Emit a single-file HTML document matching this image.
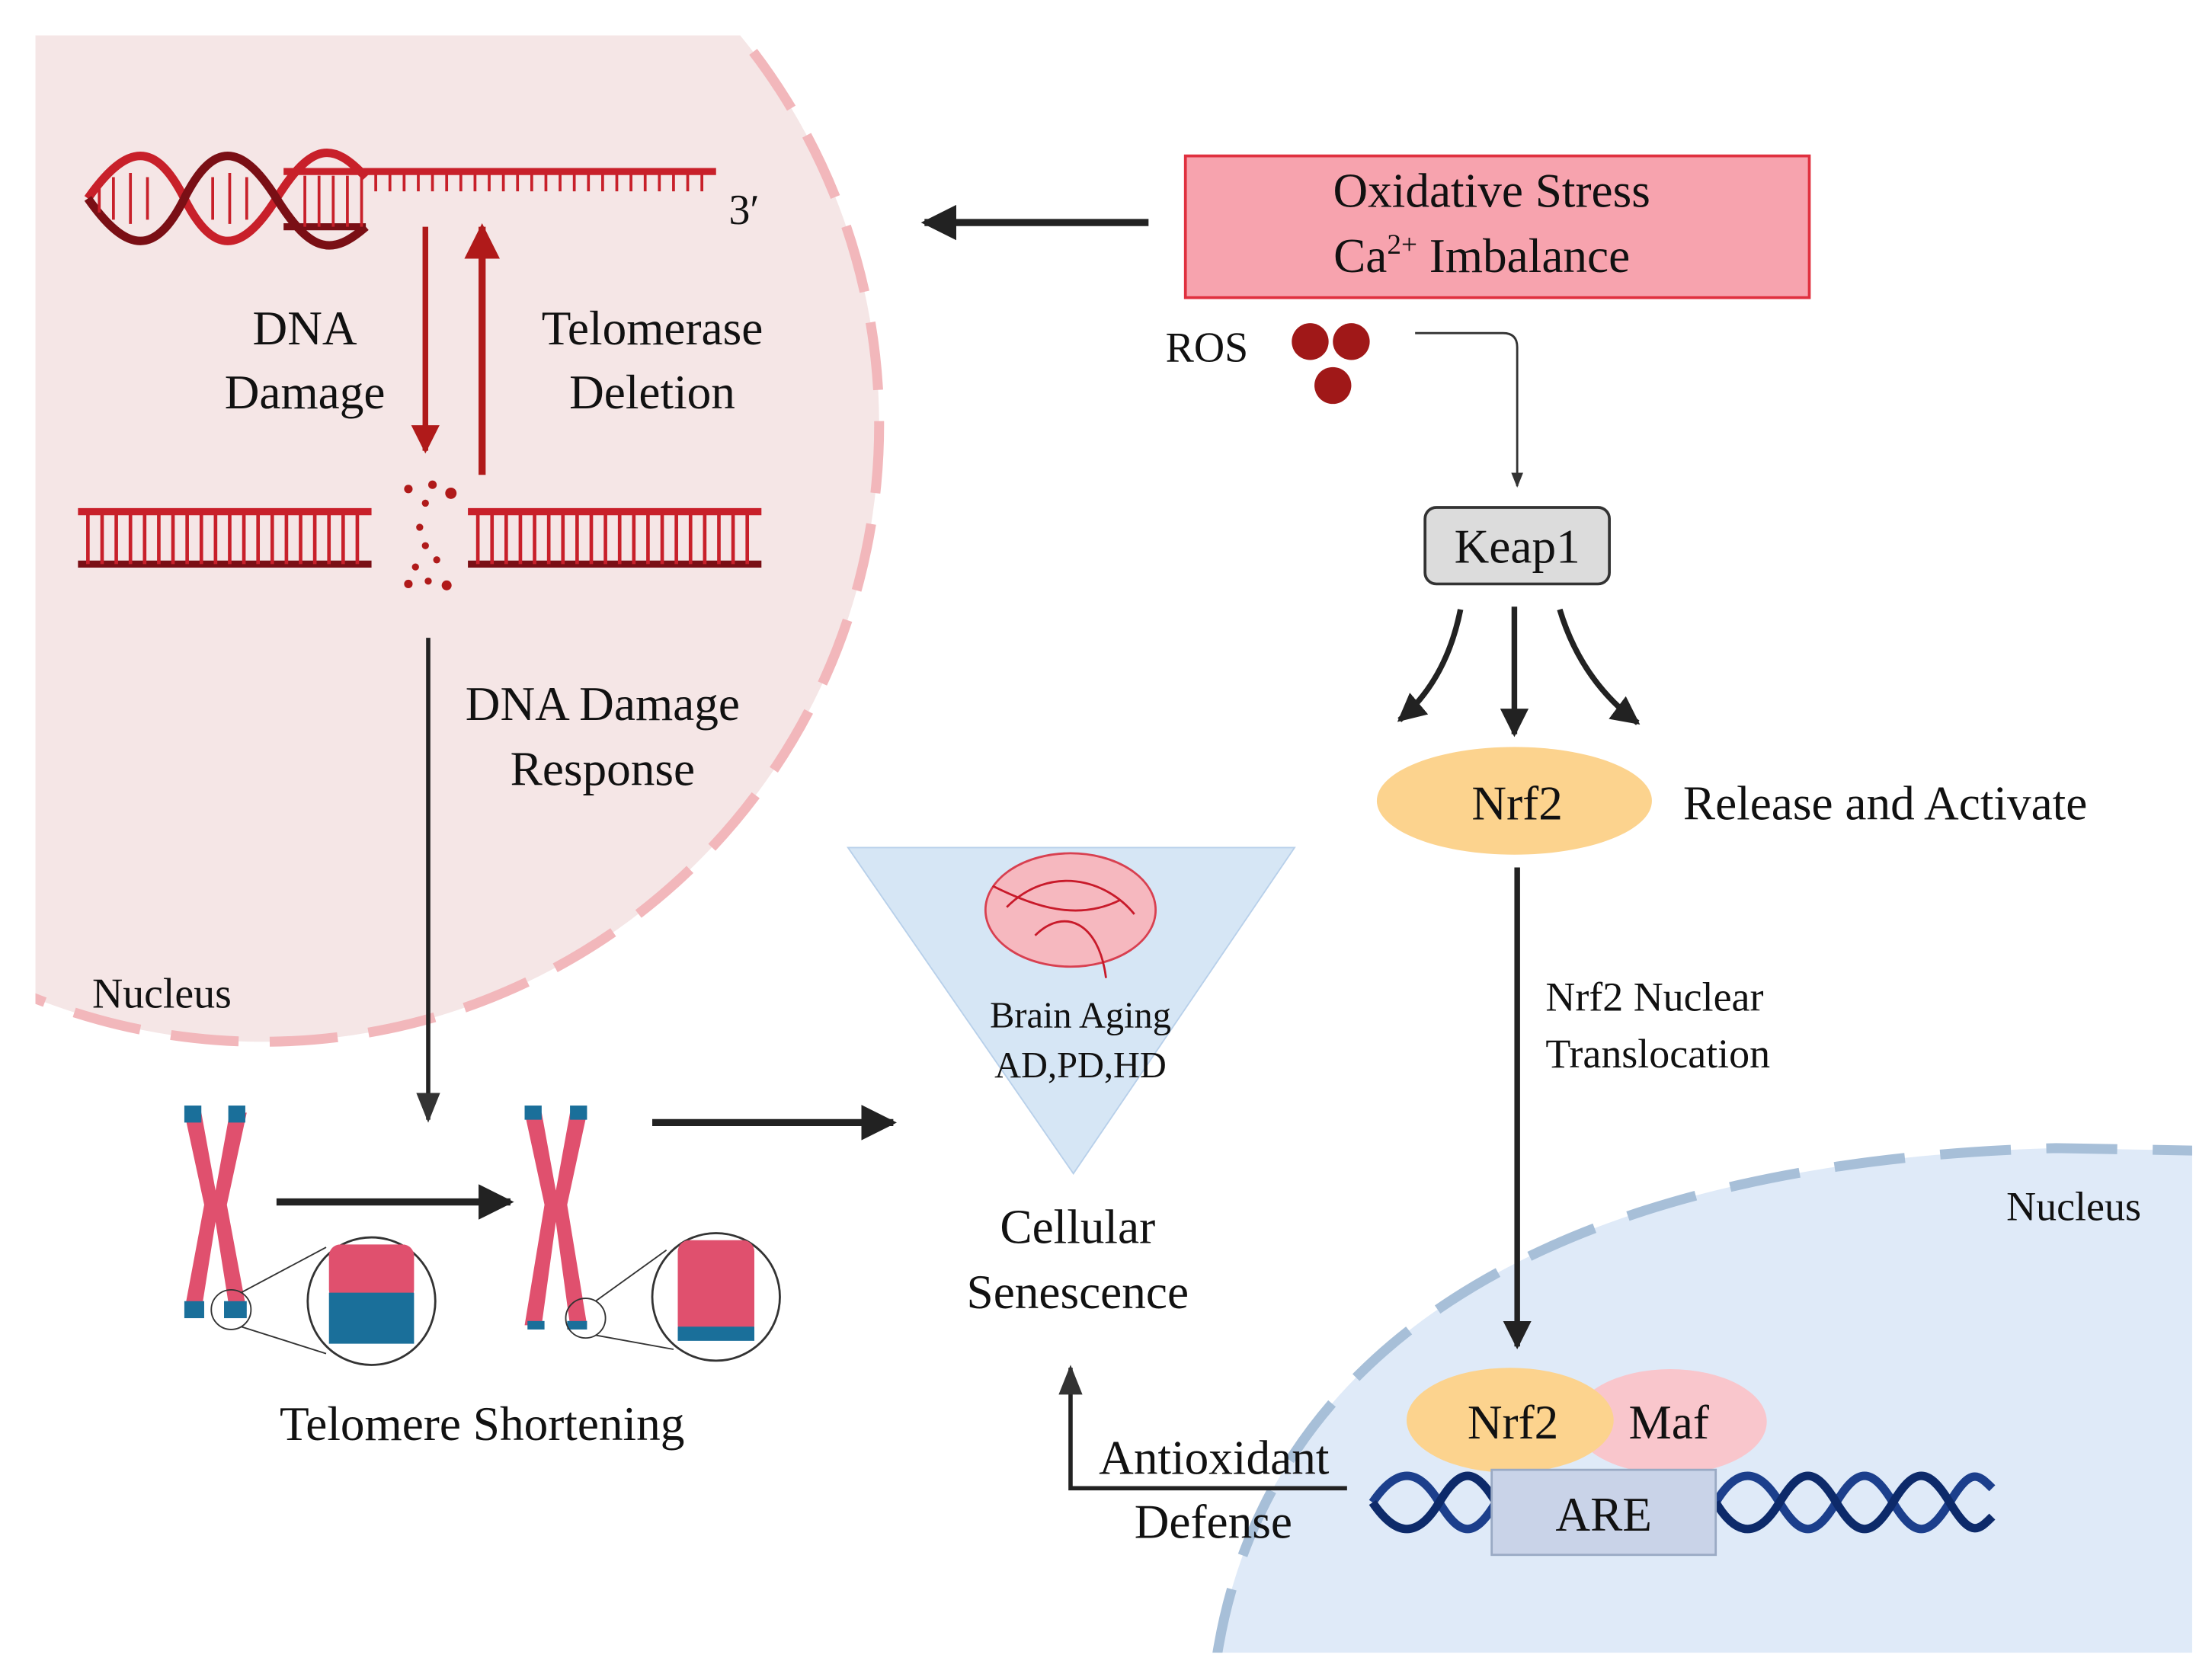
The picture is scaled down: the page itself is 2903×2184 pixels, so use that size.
<!DOCTYPE html>
<html><head><meta charset="utf-8"><style>
html,body{margin:0;padding:0;background:#fff}
svg{display:block}
svg text{font-family:"Liberation Serif","Times New Roman",serif !important;fill:#111}
</style></head><body>
<svg width="2903" height="2184" viewBox="0 0 1560 1174" preserveAspectRatio="none" xmlns="http://www.w3.org/2000/svg" font-family="Liberation Serif, serif">
<defs>
<clipPath id="cl"><rect x="25" y="25" width="700" height="760"/></clipPath>
<clipPath id="cr"><rect x="800" y="780" width="746" height="386"/></clipPath>
<marker id="ab" viewBox="0 0 10 10" refX="9" refY="5" markerWidth="5" markerHeight="5" orient="auto"><path d="M0,0L10,5L0,10z" fill="#222"/></marker>
<marker id="as" viewBox="0 0 10 10" refX="9" refY="5" markerWidth="7" markerHeight="7" orient="auto"><path d="M0,1L10,5L0,9z" fill="#333"/></marker>
<marker id="ar" viewBox="0 0 10 10" refX="9" refY="5" markerWidth="5" markerHeight="5" orient="auto"><path d="M0,0L10,5L0,10z" fill="#b01a1a"/></marker>
</defs>
<g clip-path="url(#cl)">
<circle cx="185" cy="300" r="435" fill="#f5e6e6"/>
<circle cx="185" cy="300" r="435" fill="none" stroke="#f2b7bb" stroke-width="7" stroke-dasharray="48 22"/>
</g>
<g clip-path="url(#cr)">
<path d="M858 1170 C 890 960, 1080 820, 1450 810 L1560 812 L1560 1180 Z" fill="#dfeaf8"/>
<path d="M858 1170 C 890 960, 1080 820, 1450 810 L1560 812" fill="none" stroke="#a7bfd8" stroke-width="7" stroke-dasharray="50 25"/>
</g>
<g stroke="#c8202a" fill="none">
<path d="M62 140 C 90 100, 110 100, 130 140 S 170 180, 195 140 S 235 100, 258 125" stroke-width="6"/>
<path d="M62 140 C 90 180, 110 180, 130 140 S 170 100, 195 140 S 235 180, 258 160" stroke="#7a0f15" stroke-width="6"/>
<line x1="200" y1="121" x2="505" y2="121" stroke-width="5"/>
<line x1="200" y1="160" x2="258" y2="160" stroke="#7a0f15" stroke-width="5"/>
<path d="M70 130v20M80 125v30M92 122v36M104 125v30M150 125v30M162 122v36M174 125v30M215 124v36M225 124v36M235 124v36M245 124v36M255 124v36" stroke-width="2"/>
<path d="M265 121v14M275 121v14M285 121v14M295 121v14M305 121v14M315 121v14M325 121v14M335 121v14M345 121v14M355 121v14M365 121v14M375 121v14M385 121v14M395 121v14M405 121v14M415 121v14M425 121v14M435 121v14M445 121v14M455 121v14M465 121v14M475 121v14M485 121v14M495 121v14" stroke-width="2"/>
</g>
<text x="514" y="158" font-size="30">3′</text>
<line x1="300" y1="160" x2="300" y2="318" stroke="#b01a1a" stroke-width="4" marker-end="url(#ar)"/>
<line x1="340" y1="335" x2="340" y2="160" stroke="#b01a1a" stroke-width="5" marker-end="url(#ar)"/>
<g font-size="34" text-anchor="middle">
<text x="215" y="243">DNA</text><text x="215" y="288">Damage</text>
<text x="460" y="243">Telomerase</text><text x="460" y="288">Deletion</text>
</g>
<g stroke="#c8202a">
<line x1="55" y1="361" x2="262" y2="361" stroke-width="5"/>
<line x1="55" y1="398" x2="262" y2="398" stroke="#7a0f15" stroke-width="5"/>
<line x1="330" y1="361" x2="537" y2="361" stroke-width="5"/>
<line x1="330" y1="398" x2="537" y2="398" stroke="#7a0f15" stroke-width="5"/>
<path d="M62 361v37M72 361v37M82 361v37M92 361v37M102 361v37M112 361v37M122 361v37M132 361v37M142 361v37M152 361v37M162 361v37M172 361v37M182 361v37M192 361v37M202 361v37M212 361v37M222 361v37M232 361v37M242 361v37M252 361v37" stroke-width="2.5"/>
<path d="M337 361v37M347 361v37M357 361v37M367 361v37M377 361v37M387 361v37M397 361v37M407 361v37M417 361v37M427 361v37M437 361v37M447 361v37M457 361v37M467 361v37M477 361v37M487 361v37M497 361v37M507 361v37M517 361v37M527 361v37" stroke-width="2.5"/>
</g>
<g fill="#b01a1a">
<circle cx="288" cy="345" r="3"/><circle cx="305" cy="342" r="3"/><circle cx="318" cy="348" r="4"/><circle cx="300" cy="355" r="2.5"/><circle cx="296" cy="372" r="2.5"/><circle cx="300" cy="385" r="2.5"/><circle cx="308" cy="395" r="2.5"/><circle cx="293" cy="400" r="2.5"/><circle cx="288" cy="412" r="3"/><circle cx="302" cy="410" r="2.5"/><circle cx="315" cy="413" r="3.5"/>
</g>
<line x1="302" y1="450" x2="302" y2="790" stroke="#222" stroke-width="3" marker-end="url(#as)"/>
<g font-size="34" text-anchor="middle">
<text x="425" y="508">DNA Damage</text><text x="425" y="554">Response</text>
</g>
<text x="65" y="711" font-size="30">Nucleus</text>
<g>
<path d="M130 785 L142 785 L152 840 L162 785 L174 785 L160 850 L174 925 L162 925 L152 862 L142 925 L130 925 L144 850 Z" fill="#e0506e"/>
<rect x="130" y="780" width="12" height="12" fill="#1a6f9a"/><rect x="161" y="780" width="12" height="12" fill="#1a6f9a"/>
<rect x="130" y="918" width="14" height="12" fill="#1a6f9a"/><rect x="158" y="918" width="16" height="12" fill="#1a6f9a"/>
<circle cx="163" cy="924" r="14" fill="none" stroke="#333" stroke-width="1"/>
<line x1="170" y1="912" x2="230" y2="880" stroke="#333"/><line x1="170" y1="936" x2="230" y2="955" stroke="#333"/>
<circle cx="262" cy="918" r="45" fill="#fff" stroke="#333" stroke-width="1.5"/>
<rect x="232" y="878" width="60" height="40" rx="8" fill="#e0506e"/>
<path d="M232 912 L292 912 L292 948 L232 948 Z" fill="#1a6f9a"/>
<path d="M370 785 L382 785 L392 840 L402 785 L414 785 L400 850 L414 935 L402 935 L392 862 L382 935 L370 935 L384 850 Z" fill="#e0506e"/>
<rect x="370" y="780" width="12" height="10" fill="#1a6f9a"/><rect x="402" y="780" width="12" height="10" fill="#1a6f9a"/>
<rect x="372" y="932" width="12" height="6" fill="#1a6f9a"/><rect x="400" y="932" width="14" height="6" fill="#1a6f9a"/>
<circle cx="413" cy="930" r="14" fill="none" stroke="#333" stroke-width="1"/>
<line x1="420" y1="918" x2="470" y2="882" stroke="#333"/><line x1="420" y1="942" x2="475" y2="952" stroke="#333"/>
<circle cx="505" cy="915" r="45" fill="#fff" stroke="#333" stroke-width="1.5"/>
<rect x="478" y="875" width="54" height="68" rx="8" fill="#e0506e"/>
<rect x="478" y="936" width="54" height="10" fill="#1a6f9a"/>
</g>
<line x1="195" y1="848" x2="360" y2="848" stroke="#222" stroke-width="5" marker-end="url(#ab)"/>
<line x1="460" y1="792" x2="630" y2="792" stroke="#222" stroke-width="5" marker-end="url(#ab)"/>
<text x="340" y="1016" font-size="34" text-anchor="middle">Telomere Shortening</text>
<path d="M598 598 L913 598 L757 828 Z" fill="#d6e6f5" stroke="#b8d0ea" stroke-width="1"/>
<ellipse cx="755" cy="642" rx="60" ry="40" fill="#f6b8bf" stroke="#d84050" stroke-width="1.5"/>
<path d="M710 640 C 740 610, 780 620, 800 645 M730 660 C 750 640, 775 650, 780 690 M700 625 C 730 640, 760 650, 790 635" stroke="#c81a2a" fill="none" stroke-width="1.5"/>
<g font-size="26" text-anchor="middle"><text x="762" y="725">Brain Aging</text><text x="762" y="760">AD,PD,HD</text></g>
<g font-size="34" text-anchor="middle"><text x="760" y="877">Cellular</text><text x="760" y="923">Senescence</text></g>
<rect x="836" y="110" width="440" height="100" fill="#f7a3ae" stroke="#e0303f" stroke-width="2"/>
<g font-size="34" text-anchor="middle"><text x="1052" y="146">Oxidative Stress</text><text x="1045" y="192">Ca<tspan font-size="20" dy="-13">2+</tspan><tspan dy="13"> Imbalance</tspan></text></g>
<line x1="810" y1="157" x2="652" y2="157" stroke="#222" stroke-width="5" marker-end="url(#ab)"/>
<text x="822" y="255" font-size="30">ROS</text>
<g fill="#a01818"><circle cx="924" cy="241" r="13"/><circle cx="953" cy="241" r="13"/><circle cx="940" cy="272" r="13"/></g>
<path d="M998 235 L1060 235 Q1070 235 1070 245 L1070 343" fill="none" stroke="#333" stroke-width="1.5" marker-end="url(#as)"/>
<rect x="1005" y="358" width="130" height="54" rx="8" fill="#dcdcdc" stroke="#333" stroke-width="2"/>
<text x="1070" y="397" font-size="34" text-anchor="middle">Keap1</text>
<g stroke="#222" stroke-width="4" fill="none" marker-end="url(#ab)">
<path d="M1030 430 Q1020 480 987 508"/>
<line x1="1068" y1="428" x2="1068" y2="518"/>
<path d="M1100 430 Q1115 480 1155 510"/>
</g>
<ellipse cx="1068" cy="565" rx="97" ry="38" fill="#fcd38e"/>
<text x="1070" y="578" font-size="34" text-anchor="middle">Nrf2</text>
<text x="1187" y="578" font-size="34">Release and Activate</text>
<line x1="1070" y1="612" x2="1070" y2="950" stroke="#222" stroke-width="4" marker-end="url(#ab)"/>
<g font-size="29"><text x="1090" y="713">Nrf2 Nuclear</text><text x="1090" y="753">Translocation</text></g>
<text x="1415" y="861" font-size="29">Nucleus</text>
<g fill="none" stroke-width="6">
<path d="M968 1060 C 985 1035, 1000 1035, 1015 1060 S 1040 1085, 1055 1060" stroke="#1c3f8c"/>
<path d="M968 1060 C 985 1085, 1000 1085, 1015 1060 S 1040 1035, 1055 1060" stroke="#0d2a6a"/>
<path d="M1210 1060 C 1225 1035,1240 1035,1255 1060 S 1280 1085,1295 1060 S 1320 1035,1335 1060 S 1360 1085,1375 1060 S 1395 1040,1405 1050" stroke="#1c3f8c"/>
<path d="M1210 1060 C 1225 1085,1240 1085,1255 1060 S 1280 1035,1295 1060 S 1320 1085,1335 1060 S 1360 1035,1375 1060 S 1395 1080,1405 1070" stroke="#0d2a6a"/>
</g>
<ellipse cx="1178" cy="1003" rx="68" ry="37" fill="#f9c6cc"/>
<ellipse cx="1065" cy="1002" rx="73" ry="37" fill="#fcd38e"/>
<text x="1067" y="1015" font-size="34" text-anchor="middle">Nrf2</text>
<text x="1177" y="1015" font-size="34" text-anchor="middle">Maf</text>
<rect x="1052" y="1037" width="158" height="60" fill="#c9d3e8" stroke="#9aaac4" stroke-width="1.5"/>
<text x="1131" y="1080" font-size="34" text-anchor="middle">ARE</text>
<path d="M950 1050 L755 1050 L755 965" fill="none" stroke="#222" stroke-width="3" marker-end="url(#as)"/>
<g font-size="34"><text x="775" y="1040">Antioxidant</text><text x="800" y="1085">Defense</text></g>
</svg>
</body></html>
